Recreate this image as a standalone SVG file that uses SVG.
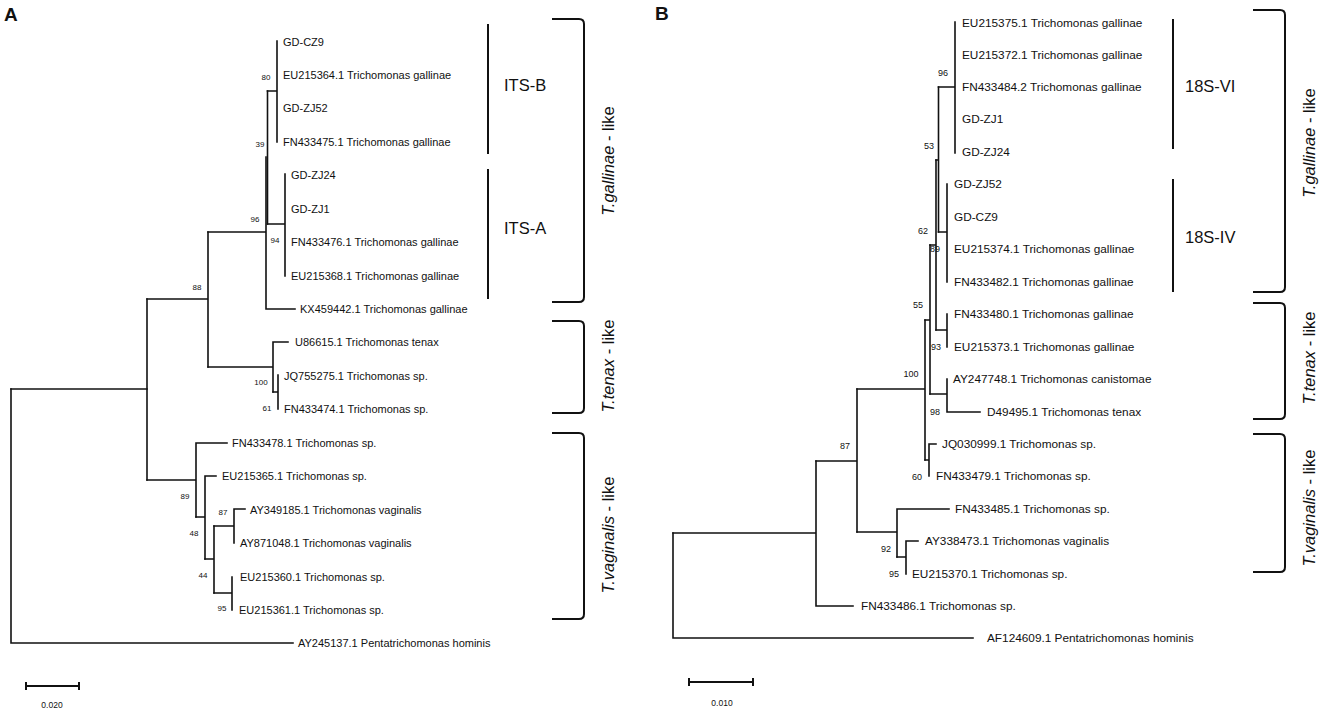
<svg xmlns="http://www.w3.org/2000/svg" width="1325" height="723" viewBox="0 0 1325 723">
<style>
  text { font-family: "Liberation Sans", Arial, sans-serif; fill: #111; }
  .la { font-size: 11px; }
  .lb { font-size: 11.8px; }
  .bs { font-size: 8px; text-anchor: middle; }
  .bsb { font-size: 9px; text-anchor: middle; }
  .panel { font-size: 19px; font-weight: bold; }
  .clade { font-size: 16.5px; }
  .grp { font-size: 16.5px; text-anchor: middle; }
  .scale { font-size: 8.5px; text-anchor: middle; }
  .br { fill: none; stroke: #111; stroke-width: 1.6; stroke-linecap: square; }
  .bar { fill: none; stroke: #111; stroke-width: 2; }
  .brk { fill: none; stroke: #111; stroke-width: 2; }
</style>
<rect width="1325" height="723" fill="#fff"/>

<g id="panel-labels">
  <text class="panel" x="4" y="21">A</text>
  <text class="panel" x="655" y="20">B</text>
</g>

<!-- ================= PANEL A ================= -->
<g id="connectors-A">
  <!-- root -->
  <path class="br" d="M11 389 V643 H293"/>
  <path class="br" d="M11 389 H147"/>
  <path class="br" d="M147 299 V480"/>
  <!-- node 88 -->
  <path class="br" d="M147 299 H208 M208 232 V367"/>
  <!-- node 96 / 39 -->
  <path class="br" d="M208 232 H266 M266 157 V309 H295"/>
  <path class="br" d="M267.5 91 V224"/>
  <!-- node 80 (ITS-B) -->
  <path class="br" d="M267.5 91 H277 M277 41 V142"/>
  <!-- node 94 (ITS-A) -->
  <path class="br" d="M267.5 224 H285 M285 174 V276"/>
  <!-- tenax -->
  <path class="br" d="M208 367 H273 M273 342 V392 M273 342 H288"/>
  <path class="br" d="M273 392 H278 M278 375 V409"/>
  <!-- vaginalis -->
  <path class="br" d="M147 480 H196 M196 443 V517 M196 443 H227"/>
  <path class="br" d="M196 517 H205 M205 476 V559 M205 476 H216"/>
  <path class="br" d="M205 559 H214 M214 526 V593"/>
  <path class="br" d="M214 526 H234 M234 509 V543 M234 509 H245"/>
  <path class="br" d="M214 593 H232 M232 577 V610"/>
</g>

<g id="leaves-A">
  <g id="a-gdcz9"><text class="la" x="283" y="46">GD-CZ9</text></g>
  <g id="a-eu215364"><text class="la" x="283" y="79">EU215364.1 Trichomonas gallinae</text></g>
  <g id="a-gdzj52"><text class="la" x="283" y="112">GD-ZJ52</text></g>
  <g id="a-fn433475"><text class="la" x="283" y="146">FN433475.1 Trichomonas gallinae</text></g>
  <g id="a-gdzj24"><text class="la" x="291" y="179">GD-ZJ24</text></g>
  <g id="a-gdzj1"><text class="la" x="291" y="213">GD-ZJ1</text></g>
  <g id="a-fn433476"><text class="la" x="291" y="246">FN433476.1 Trichomonas gallinae</text></g>
  <g id="a-eu215368"><text class="la" x="291" y="280">EU215368.1 Trichomonas gallinae</text></g>
  <g id="a-kx459442"><text class="la" x="300" y="313">KX459442.1 Trichomonas gallinae</text></g>
  <g id="a-u86615"><text class="la" x="295" y="346">U86615.1 Trichomonas tenax</text></g>
  <g id="a-jq755275"><text class="la" x="284" y="380">JQ755275.1 Trichomonas sp.</text></g>
  <g id="a-fn433474"><text class="la" x="284" y="413">FN433474.1 Trichomonas sp.</text></g>
  <g id="a-fn433478"><text class="la" x="232" y="447">FN433478.1 Trichomonas sp.</text></g>
  <g id="a-eu215365"><text class="la" x="222" y="480">EU215365.1 Trichomonas sp.</text></g>
  <g id="a-ay349185"><text class="la" x="250" y="514">AY349185.1 Trichomonas vaginalis</text></g>
  <g id="a-ay871048"><text class="la" x="240" y="547">AY871048.1 Trichomonas vaginalis</text></g>
  <g id="a-eu215360"><text class="la" x="240" y="581">EU215360.1 Trichomonas sp.</text></g>
  <g id="a-eu215361"><text class="la" x="239" y="614">EU215361.1 Trichomonas sp.</text></g>
  <g id="a-ay245137"><text class="la" x="298" y="647">AY245137.1 Pentatrichomonas hominis</text></g>
</g>

<g id="bootstrap-A">
  <text class="bs" x="266" y="80">80</text>
  <text class="bs" x="260" y="147">39</text>
  <text class="bs" x="255" y="222">96</text>
  <text class="bs" x="275" y="243">94</text>
  <text class="bs" x="197" y="290">88</text>
  <text class="bs" x="261" y="385">100</text>
  <text class="bs" x="267" y="411">61</text>
  <text class="bs" x="185" y="499">89</text>
  <text class="bs" x="223" y="515">87</text>
  <text class="bs" x="194" y="536">48</text>
  <text class="bs" x="203" y="578">44</text>
  <text class="bs" x="222" y="611">95</text>
</g>

<g id="clades-A">
  <g id="its-b"><path class="bar" d="M488 24 V154"/><text class="clade" x="504" y="91">ITS-B</text></g>
  <g id="its-a"><path class="bar" d="M488 169 V299"/><text class="clade" x="504" y="234">ITS-A</text></g>
</g>

<g id="groups-A">
  <g id="a-gallinae-like">
    <path class="brk" d="M552 19 H579 Q584 19 584 24 V297 Q584 302 579 302 H552"/>
    <text class="grp" transform="translate(614,161) rotate(-90)"><tspan font-style="italic">T.gallinae</tspan> - like</text>
  </g>
  <g id="a-tenax-like">
    <path class="brk" d="M552 321 H579 Q584 321 584 326 V408 Q584 413 579 413 H552"/>
    <text class="grp" transform="translate(614,366) rotate(-90)"><tspan font-style="italic">T.tenax</tspan> - like</text>
  </g>
  <g id="a-vaginalis-like">
    <path class="brk" d="M552 433 H579 Q584 433 584 438 V614 Q584 619 579 619 H552"/>
    <text class="grp" transform="translate(614,535) rotate(-90)"><tspan font-style="italic">T.vaginalis</tspan> - like</text>
  </g>
</g>

<g id="scale-A">
  <path class="bar" d="M26 686 H79 M26 682 V690 M79 682 V690"/>
  <text class="scale" x="52" y="708">0.020</text>
</g>

<!-- ================= PANEL B ================= -->
<g id="connectors-B">
  <!-- root -->
  <path class="br" d="M673 533 V638 H973"/>
  <path class="br" d="M673 533 H816 M816 461 V606 H853"/>
  <!-- node 87 -->
  <path class="br" d="M816 461 H857 M857 389 V532"/>
  <!-- node 92 / 95 -->
  <path class="br" d="M857 532 H897 M897 509 V557 M897 509 H949"/>
  <path class="br" d="M897 557 H906 M906 541 V574 M906 541 H918"/>
  <!-- node 100 -->
  <path class="br" d="M857 389 H925 M925 320 V460"/>
  <!-- node 60 -->
  <path class="br" d="M925 460 H929 M929 444 V476 M929 444 H936"/>
  <!-- node 55 -->
  <path class="br" d="M925 320 H930 M930 245 V394"/>
  <!-- node 98 -->
  <path class="br" d="M930 394 H947 M947 379 V412 H980"/>
  <!-- node 62 -->
  <path class="br" d="M930 245 H936 M936 160 V330"/>
  <!-- node 93 -->
  <path class="br" d="M936 330 H947 M947 314 V347"/>
  <!-- node 53 -->
  <path class="br" d="M936 160 H938.5 M938.5 87 V232"/>
  <!-- 18S-VI -->
  <path class="br" d="M938.5 87 H955 M955 22 V153"/>
  <!-- 18S-IV -->
  <path class="br" d="M938.5 232 H947 M947 184 V282"/>
</g>

<g id="leaves-B">
  <g id="b-eu215375"><text class="lb" x="962" y="27">EU215375.1 Trichomonas gallinae</text></g>
  <g id="b-eu215372"><text class="lb" x="962" y="59">EU215372.1 Trichomonas gallinae</text></g>
  <g id="b-fn433484"><text class="lb" x="962" y="91">FN433484.2 Trichomonas gallinae</text></g>
  <g id="b-gdzj1"><text class="lb" x="962" y="123">GD-ZJ1</text></g>
  <g id="b-gdzj24"><text class="lb" x="962" y="156">GD-ZJ24</text></g>
  <g id="b-gdzj52"><text class="lb" x="954" y="188">GD-ZJ52</text></g>
  <g id="b-gdcz9"><text class="lb" x="954" y="221">GD-CZ9</text></g>
  <g id="b-eu215374"><text class="lb" x="954" y="253">EU215374.1 Trichomonas gallinae</text></g>
  <g id="b-fn433482"><text class="lb" x="954" y="286">FN433482.1 Trichomonas gallinae</text></g>
  <g id="b-fn433480"><text class="lb" x="954" y="318">FN433480.1 Trichomonas gallinae</text></g>
  <g id="b-eu215373"><text class="lb" x="954" y="351">EU215373.1 Trichomonas gallinae</text></g>
  <g id="b-ay247748"><text class="lb" x="953" y="383">AY247748.1 Trichomonas canistomae</text></g>
  <g id="b-d49495"><text class="lb" x="987" y="416">D49495.1 Trichomonas tenax</text></g>
  <g id="b-jq030999"><text class="lb" x="942" y="448">JQ030999.1 Trichomonas sp.</text></g>
  <g id="b-fn433479"><text class="lb" x="936" y="480">FN433479.1 Trichomonas sp.</text></g>
  <g id="b-fn433485"><text class="lb" x="955" y="513">FN433485.1 Trichomonas sp.</text></g>
  <g id="b-ay338473"><text class="lb" x="925" y="545">AY338473.1 Trichomonas vaginalis</text></g>
  <g id="b-eu215370"><text class="lb" x="912" y="578">EU215370.1 Trichomonas sp.</text></g>
  <g id="b-fn433486"><text class="lb" x="861" y="610">FN433486.1 Trichomonas sp.</text></g>
  <g id="b-af124609"><text class="lb" x="987" y="642">AF124609.1 Pentatrichomonas hominis</text></g>
</g>

<g id="bootstrap-B">
  <text class="bsb" x="943" y="76">96</text>
  <text class="bsb" x="929" y="149">53</text>
  <text class="bsb" x="923" y="234">62</text>
  <text class="bsb" x="935" y="252">89</text>
  <text class="bsb" x="918" y="308">55</text>
  <text class="bsb" x="936" y="350">93</text>
  <text class="bsb" x="911" y="377">100</text>
  <text class="bsb" x="935" y="415">98</text>
  <text class="bsb" x="845" y="449">87</text>
  <text class="bsb" x="917" y="480">60</text>
  <text class="bsb" x="886" y="552">92</text>
  <text class="bsb" x="894" y="577">95</text>
</g>

<g id="clades-B">
  <g id="s18-vi"><path class="bar" d="M1173 19 V149"/><text class="clade" x="1185" y="92">18S-VI</text></g>
  <g id="s18-iv"><path class="bar" d="M1173 179 V292"/><text class="clade" x="1185" y="243">18S-IV</text></g>
</g>

<g id="groups-B">
  <g id="b-gallinae-like">
    <path class="brk" d="M1253 10 H1280 Q1285 10 1285 15 V287 Q1285 292 1280 292 H1253"/>
    <text class="grp" transform="translate(1315,143) rotate(-90)"><tspan font-style="italic">T.gallinae</tspan> - like</text>
  </g>
  <g id="b-tenax-like">
    <path class="brk" d="M1253 303 H1280 Q1285 303 1285 308 V414 Q1285 419 1280 419 H1253"/>
    <text class="grp" transform="translate(1315,358) rotate(-90)"><tspan font-style="italic">T.tenax</tspan> - like</text>
  </g>
  <g id="b-vaginalis-like">
    <path class="brk" d="M1253 434 H1280 Q1285 434 1285 439 V567 Q1285 572 1280 572 H1253"/>
    <text class="grp" transform="translate(1315,508) rotate(-90)"><tspan font-style="italic">T.vaginalis</tspan> - like</text>
  </g>
</g>

<g id="scale-B">
  <path class="bar" d="M689 682 H753 M689 678 V686 M753 678 V686"/>
  <text class="scale" x="722" y="706">0.010</text>
</g>
</svg>
